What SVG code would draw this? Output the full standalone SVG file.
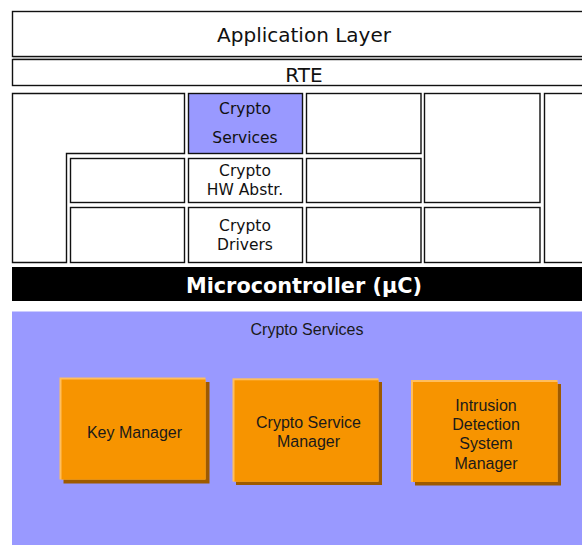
<svg xmlns="http://www.w3.org/2000/svg" width="582" height="545" viewBox="0 0 582 545">
<style>
.b{fill:#fff;stroke:#111;stroke-width:1.4}
.sh{fill:none;stroke:#999;stroke-width:1}
.t{font-family:"DejaVu Sans",Verdana,sans-serif;fill:#111;text-anchor:middle}
.t20{font-size:20px}
.t15{font-size:15.5px}
.a{font-family:"Liberation Sans",Arial,sans-serif;font-size:16px;fill:#1a1a1a;text-anchor:middle}
.or{fill:#F79400}
.hl{fill:#FFBE5C}
.ds{fill:#9E5A00}
</style>
<rect width="582" height="545" fill="#fff"/>
<g id="app-layer">
<rect class="b" x="12.5" y="11.5" width="575" height="45"/>
<line class="sh" x1="13" y1="58" x2="582" y2="58"/>
<text class="t t20" x="304" y="42">Application Layer</text>
</g>
<g id="rte">
<rect class="b" x="12.5" y="59.5" width="575" height="26"/>
<text class="t t20" x="304" y="81.5">RTE</text>
</g>
<g id="left-l">
<path class="b" d="M12.5 93.5 H184.5 V153.5 H66.5 V262.5 H12.5 Z"/>
</g>
<g id="crypto-services">
<rect class="b" x="188.5" y="93.5" width="114" height="60" style="fill:#9999FF"/>
<text class="t t15" x="245" y="114">Crypto</text>
<text class="t t15" x="245" y="142.7">Services</text>
</g>
<g id="crypto-hw-abstr">
<rect class="b" x="188.5" y="158.5" width="114" height="44"/>
<text class="t t15" x="245" y="176">Crypto</text>
<text class="t t15" x="245" y="195">HW Abstr.</text>
</g>
<g id="crypto-drivers">
<rect class="b" x="188.5" y="207.5" width="114" height="55"/>
<text class="t t15" x="245" y="231">Crypto</text>
<text class="t t15" x="245" y="249.5">Drivers</text>
</g>
<g id="box-l2"><rect class="b" x="70.5" y="158.5" width="114" height="44"/></g>
<g id="box-l3"><rect class="b" x="70.5" y="207.5" width="114" height="55"/></g>
<g id="box-c4r1"><rect class="b" x="306.5" y="93.5" width="114.5" height="60"/></g>
<g id="box-c4r2"><rect class="b" x="306.5" y="158.5" width="114.5" height="44"/></g>
<g id="box-c4r3"><rect class="b" x="306.5" y="207.5" width="114.5" height="55"/></g>
<g id="box-c5top"><rect class="b" x="424.5" y="93.5" width="115.5" height="109"/></g>
<g id="box-c5bot"><rect class="b" x="424.5" y="207.5" width="115.5" height="55"/></g>
<g id="box-c6"><rect class="b" x="544.5" y="93.5" width="45" height="169"/></g>
<g id="microcontroller">
<rect x="12" y="267" width="570" height="34" fill="#000"/>
<text x="304" y="293" font-family="'DejaVu Sans',Verdana,sans-serif" font-weight="bold" font-size="20.8" fill="#fff" text-anchor="middle">Microcontroller (µC)</text>
</g>
<g id="crypto-services-panel">
<rect x="12" y="311.5" width="570" height="233.5" fill="#9999FF"/>
<text class="a" x="307" y="334.7">Crypto Services</text>
</g>
<g id="key-manager">
<rect class="ds" x="63.5" y="382" width="146" height="101.5"/>
<rect class="hl" x="59.5" y="377.5" width="146" height="102"/>
<rect class="or" x="61.5" y="379.5" width="144" height="100"/>
<text class="a" x="134.5" y="438">Key Manager</text>
</g>
<g id="crypto-service-manager">
<rect class="ds" x="236" y="382" width="146" height="103"/>
<rect class="hl" x="232.5" y="378.3" width="146" height="103.3"/>
<rect class="or" x="234.5" y="380.3" width="144" height="101.3"/>
<text class="a" x="308.5" y="428.3">Crypto Service</text>
<text class="a" x="308.5" y="447.3">Manager</text>
</g>
<g id="ids-manager">
<rect class="ds" x="415" y="384" width="146" height="101.5"/>
<rect class="hl" x="411" y="380" width="146.5" height="102"/>
<rect class="or" x="413" y="382" width="144.5" height="100"/>
<text class="a" x="486" y="410.5">Intrusion</text>
<text class="a" x="486" y="430">Detection</text>
<text class="a" x="486" y="449">System</text>
<text class="a" x="486" y="468.5">Manager</text>
</g>
</svg>
